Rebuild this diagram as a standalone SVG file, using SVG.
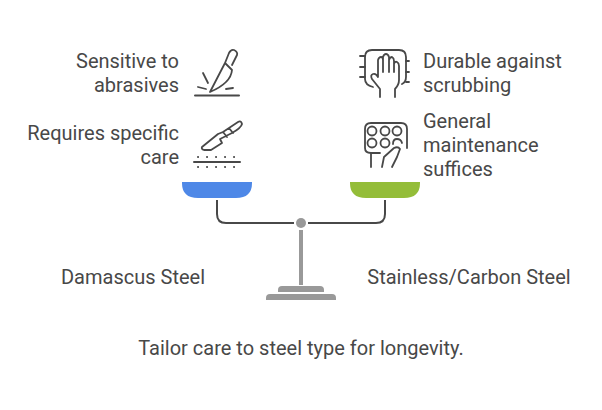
<svg xmlns="http://www.w3.org/2000/svg" width="602" height="410" viewBox="0 0 602 410">
<style>
text{font-family:Roboto,"Liberation Sans",sans-serif;font-size:20px;fill:#484848}
.i{fill:none;stroke:#484848;stroke-width:1.800;stroke-linecap:round;stroke-linejoin:round}
.g{fill:#999}
</style>
<rect width="602" height="410" fill="#fff"/>
<g id="connectors">
<path d="M217 200V214Q217 223 226 223H294M385 200V214Q385 223 376 223H308" fill="none" stroke="#484848" stroke-width="2"/>
</g>
<g id="scale">
<circle cx="301" cy="223" r="5" class="g"/>
<rect x="299" y="230" width="4" height="55" class="g"/>
<path d="M278 292V290Q278 286 282 286H320Q324 286 324 290V292Z" class="g"/>
<path d="M266 300V298Q266 294 270 294H332Q336 294 336 298V300Z" class="g"/>
</g>
<g id="pan-left"><path d="M182 182H252V183Q252 198 236 198H198Q182 198 182 183Z" fill="#4e88e7"/></g>
<g id="pan-right"><path d="M350 182H420V183Q420 198 404 198H366Q350 198 350 183Z" fill="#94bd39"/></g>
<g id="node-sensitive">
<text x="179" y="68" text-anchor="end">Sensitive to</text>
<text x="179" y="92" text-anchor="end">abrasives</text>
<g class="i">
<path d="M195 95.500H239" stroke-width="2"/>
<path d="M210 92L225 63L232 70Q231 83 210 92ZM225 63L229 53Q231 49 234 50Q238 52 237 55L232 65"/>
<path d="M203 73L208 83M198 87L206 89M226 89L233 88"/>
</g>
</g>
<g id="node-requires">
<text x="179" y="140" text-anchor="end">Requires specific</text>
<text x="179" y="164" text-anchor="end">care</text>
<g class="i">
<path d="M194 162H240" stroke-width="2"/>
<path d="M202 147L218 134L223 132L238 122Q241 120 242 124Q241 128 232 133L220 139L222 143L211 150H204Q201 149 202 147ZM223 132L227 137M229 128L233 133"/>
<path d="M198 157h.1M207 157h.1M216 157h.1M225 157h.1M234 157h.1M198 167h.1M207 167h.1M216 167h.1M225 167h.1M234 167h.1" stroke-width="2"/>
</g>
</g>
<g id="node-durable">
<text x="423" y="68">Durable against</text>
<text x="423" y="92">scrubbing</text>
<g class="i">
<path d="M373 87Q365 85 365 79V57Q365 50 372 50H399Q406 50 406 57V77Q406 82 402 84"/>
<path d="M360 56H365M360 67H365M360 77H365M406 61H409M406 72H409M406 82H409"/>
<path d="M380 97V89L372 79Q370 75 373 74Q376 73 378 77V60Q379 57 381 57Q383 57 383 60V57Q384 54 386 54Q388 54 389 57V60Q390 57 392 57Q394 58 394 61V64Q395 61 397 62Q399 63 399 66V80Q399 85 395 89V97M383 60V72M389 60V72M394 64V72"/>
</g>
</g>
<g id="node-general">
<text x="423" y="128">General</text>
<text x="423" y="152">maintenance</text>
<text x="423" y="176">suffices</text>
<g class="i">
<path d="M371 153Q365 153 365 148V129Q365 123 371 123H401Q407 123 407 129V148"/>
<circle cx="372" cy="131" r="4.500"/><circle cx="385" cy="131" r="4.500"/><circle cx="397" cy="131" r="4.500"/>
<circle cx="372" cy="143" r="4.500"/><circle cx="385" cy="143" r="4.500"/>
<path d="M393 144Q393 139 397 139Q401 139 402 143"/>
<path d="M371 153V167M371 153H380"/>
<path d="M382 167L384 157L394 148Q398 146 400 149L397 157L392 167"/>
</g>
</g>
<text id="label-left" x="133" y="284" text-anchor="middle">Damascus Steel</text>
<text id="label-right" x="469" y="284" text-anchor="middle">Stainless/Carbon Steel</text>
<text id="caption" x="301" y="355" text-anchor="middle">Tailor care to steel type for longevity.</text>
</svg>
